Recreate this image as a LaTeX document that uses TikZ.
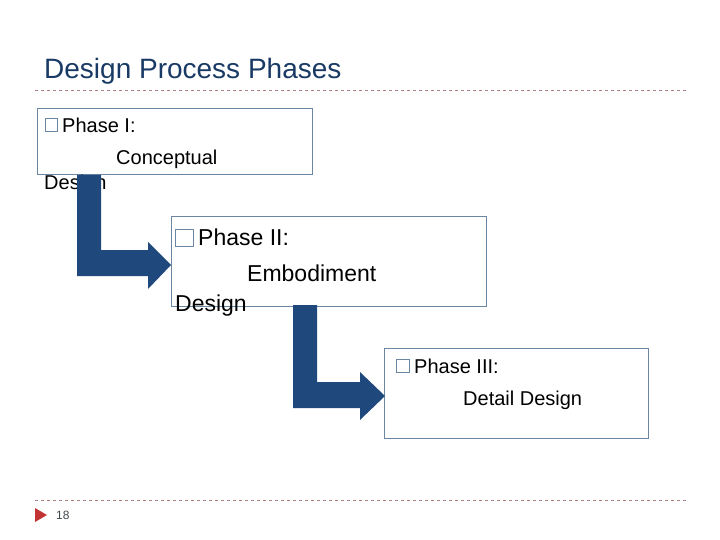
\documentclass[tikz,border=0pt]{standalone}
\usepackage{fontspec}
\setmainfont{Liberation Sans}
\begin{document}
\begin{tikzpicture}[x=1pt,y=-1pt,
  box/.style={draw=boxc,line width=0.9pt,inner sep=0,anchor=north west},
  txt/.style={anchor=base west,inner sep=0},
  sq/.style={draw=boxc,line width=0.8pt,fill=white},
  arr/.style={fill=arrc,draw=none},
  rule/.style={draw=rulec,dashed,line width=0.6pt}]
\definecolor{boxc}{HTML}{6A86A2}
\definecolor{arrc}{HTML}{1F497D}
\definecolor{rulec}{HTML}{B08080}
\definecolor{pagec}{HTML}{404850}
\path[use as bounding box] (0,0) rectangle (720,540);
\node[txt,font=\fontsize{28}{30}\selectfont,text=arrc!80!black] (title) at (44,79) {Design Process Phases};
\draw[rule] (35,90) -- (686,90);
\draw[rule] (35,500) -- (686,500);
% boxes
\node[box,minimum width=275,minimum height=66] (b1) at (37,108) {};
\node[box,minimum width=315,minimum height=90] (b2) at (171,216) {};
\node[box,minimum width=264,minimum height=90] (b3) at (384,348) {};
% text box1
\draw[sq] (45,118) rectangle (57,131);
\node[txt,font=\fontsize{20}{22}\selectfont] (t1a) at (62,133) {Phase I:};
\node[txt,font=\fontsize{20}{22}\selectfont] (t1b) at (116,165) {Conceptual};
\node[txt,font=\fontsize{20}{22}\selectfont] (t1c) at (44,190) {Design};
% arrow 1
\fill[arr] (77,175) -- (101,175) -- (101,250) -- (148,250) -- (148,242) -- (171,265) -- (148,289) -- (148,276) -- (77,276) -- cycle;
% text box2
\draw[sq] (175,229) rectangle (193,246);
\node[txt,font=\fontsize{23}{25}\selectfont] (t2a) at (198,245) {Phase II:};
\node[txt,font=\fontsize{23}{25}\selectfont] (t2b) at (247,281) {Embodiment};
\node[txt,font=\fontsize{23}{25}\selectfont] (t2c) at (175,311) {Design};
% arrow 2
\fill[arr] (293,305) -- (317,305) -- (317,382) -- (360,382) -- (360,372) -- (385,396) -- (360,420) -- (360,408) -- (293,408) -- cycle;
% text box3
\draw[sq] (396,359) rectangle (409,372);
\node[txt,font=\fontsize{20}{22}\selectfont] (t3a) at (414,373) {Phase III:};
\node[txt,font=\fontsize{20}{22}\selectfont] (t3b) at (463,405) {Detail Design};
% footer
\fill[red!70!black!80] (35,508) -- (47,515) -- (35,522) -- cycle;
\node[txt,font=\fontsize{12}{14}\selectfont,text=pagec] (pg) at (56,519) {18};
\end{tikzpicture}
\end{document}
